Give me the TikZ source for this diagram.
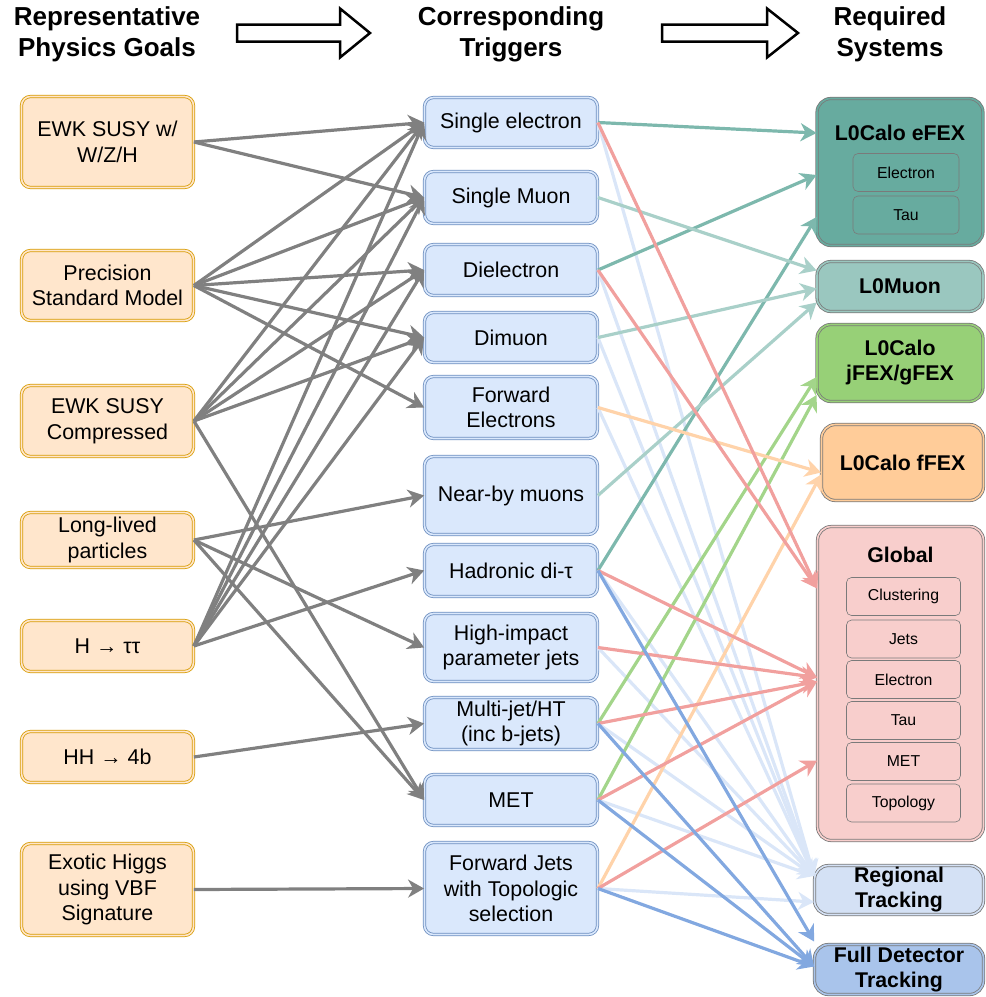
\documentclass[tikz,border=0pt]{standalone}
\usepackage{fontspec}
\setmainfont{Liberation Sans}
\usetikzlibrary{arrows.meta}

\definecolor{goalfill}{HTML}{FFE6CC}
\definecolor{goalline}{HTML}{D79B00}
\definecolor{trigfill}{HTML}{DAE8FC}
\definecolor{trigline}{HTML}{6C8EBF}
\definecolor{sysline}{HTML}{7A7A7A}
\definecolor{efexfill}{HTML}{67AB9F}
\definecolor{muonfill}{HTML}{9AC7BF}
\definecolor{jfexfill}{HTML}{97D077}
\definecolor{ffexfill}{HTML}{FFCC99}
\definecolor{globfill}{HTML}{F8CECC}
\definecolor{regfill}{HTML}{D4E1F5}
\definecolor{fullfill}{HTML}{A9C4EB}
%connector colours
\definecolor{goalarrow}{HTML}{808080}
\definecolor{efexarrow}{HTML}{7DB8AD}
\definecolor{muonarrow}{HTML}{A9D0C9}
\definecolor{jfexarrow}{HTML}{A3D58A}
\definecolor{ffexarrow}{HTML}{FFD3AA}
\definecolor{globarrow}{HTML}{F1A09E}
\definecolor{regarrow}{HTML}{DAE6F8}
\definecolor{fullarrow}{HTML}{82A8E0}

\tikzset{
	headtext/.style={font=\fontsize{26}{31}\selectfont\bfseries, align=center},
	bigarrow/.style={draw=black, fill=white, line width=2.5pt, miter limit=10},
	boxtext/.style={font=\fontsize{21.4}{25.5}\selectfont, align=center, inner sep=2pt},
	goal/.style={boxtext, draw=goalline, fill=goalfill, double=goalfill, double distance=1.6pt, line width=0.8pt, rounded corners=9pt, minimum width=172pt},
	trigger/.style={boxtext, draw=trigline, fill=trigfill, double=trigfill, double distance=1.6pt, line width=0.8pt, rounded corners=9pt, minimum width=173pt},
	systitle/.style={font=\fontsize{21.3}{25}\selectfont\bfseries, align=center, inner sep=2pt},
	system/.style={systitle, draw=sysline, fill=#1, double=#1, double distance=1.6pt, line width=0.8pt, rounded corners=14pt, minimum width=166pt},
	subbox/.style={draw=sysline, fill=#1, line width=0.6pt, rounded corners=5pt, font=\fontsize{15.8}{18}\selectfont, inner sep=0pt, minimum height=38pt},
	link/.style={draw=#1, line width=3.2pt, -{Stealth[length=16pt,width=18pt,inset=5pt]}}
}

\begin{document}
\begin{tikzpicture}[x=1pt,y=-1pt]
	\useasboundingbox (0,0) rectangle (986,997);

	%column headings
	\node[headtext] (goalhead) at (107,34) {Representative\\Physics Goals};
	\node[headtext] (trighead) at (511,34) {Corresponding\\Triggers};
	\node[headtext] (syshead)  at (890,34) {Required\\Systems};
	\draw[bigarrow] (237,24.5)--(340,24.5)--(340,8.5)--(370,33)--(340,57.5)--(340,41.5)--(237,41.5)--cycle;	%first block arrow
	\draw[bigarrow] (662,24.5)--(767,24.5)--(767,8.5)--(798,33)--(767,57.5)--(767,41.5)--(662,41.5)--cycle;	%second block arrow

	%physics goals
	\node[goal, minimum height=91pt] (ewkw) at (107.5,142)   {EWK SUSY w/\\W/Z/H};
	\node[goal, minimum height=70pt] (psm)  at (107.5,285.5) {Precision\\Standard Model};
	\node[goal, minimum height=71pt] (ewkc) at (107.5,421)   {EWK SUSY\\Compressed};
	\node[goal, minimum height=55pt] (llp)  at (107.5,540)   {Long-lived\\particles};
	\node[goal, minimum height=51pt] (htt)  at (107.5,646)   {H → ττ};
	\node[goal, minimum height=51pt] (hhb)  at (107.5,757)   {HH → 4b};
	\node[goal, minimum height=92pt] (exh)  at (107.5,889.5) {Exotic Higgs\\using VBF\\Signature};

	%triggers
	\node[trigger, minimum height=50pt] (sgle)  at (511,122.5) {Single electron};
	\node[trigger, minimum height=52pt] (smu)   at (511,197.5) {Single Muon};
	\node[trigger, minimum height=51pt] (diel)  at (511,270)   {Dielectron};
	\node[trigger, minimum height=50pt] (dimu)  at (511,337.5) {Dimuon};
	\node[trigger, minimum height=62pt] (fwde)  at (511,407.5) {Forward\\Electrons};
	\node[trigger, minimum height=78pt] (nbmu)  at (511,495.5) {Near-by muons};
	\node[trigger, minimum height=52pt] (ditau) at (511,570.5) {Hadronic di-τ};
	\node[trigger, minimum height=68pt] (hip)   at (511,647.5) {High-impact\\parameter jets};
	\node[trigger, minimum height=52pt] (mjet)  at (511,723.5) {Multi-jet/HT\\(inc b-jets)};
	\node[trigger, minimum height=51pt] (met)   at (511,800)   {MET};
	\node[trigger, minimum height=92pt] (fwdj)  at (511,888.5) {Forward Jets\\with Topologic\\selection};

	%systems
	\node[system=efexfill, minimum height=147pt] (efex) at (900,172) {};
		\node[systitle] (efextitle) at (900,133) {L0Calo eFEX};
		\node[subbox=efexfill, minimum width=106pt] (efexel)  at (906,172.5) {Electron};
		\node[subbox=efexfill, minimum width=106pt] (efextau) at (906,215)   {Tau};
	\node[system=muonfill, minimum height=50pt] (lmuon) at (900,286.5) {L0Muon};
	\node[system=jfexfill, minimum height=77pt] (jfex)  at (900,363)   {L0Calo\\jFEX/gFEX};
	\node[system=ffexfill, minimum height=76pt, minimum width=162pt] (ffex) at (902.5,462.5) {L0Calo fFEX};
	\node[system=globfill, minimum height=314pt] (glob) at (900.5,683.5) {};
		\node[systitle] (globtitle) at (900.5,555) {Global};
		\node[subbox=globfill, minimum width=114pt] (globclus) at (903.5,596.5) {Clustering};
		\node[subbox=globfill, minimum width=114pt] (globjets) at (903.5,639)   {Jets};
		\node[subbox=globfill, minimum width=114pt] (globel)   at (903.5,679.5) {Electron};
		\node[subbox=globfill, minimum width=114pt] (globtau)  at (903.5,720.5) {Tau};
		\node[subbox=globfill, minimum width=114pt] (globmet)  at (903.5,761.5) {MET};
		\node[subbox=globfill, minimum width=114pt] (globtopo) at (903.5,803)   {Topology};
	\node[system=regfill,  minimum height=49pt, minimum width=169pt] (regtrk)  at (899,890)   {Regional\\Tracking};
	\node[system=fullfill, minimum height=50pt, minimum width=169pt] (fulltrk) at (899,969.5) {Full Detector\\Tracking};

	%goals to triggers
	\foreach \t in {sgle,smu}                 \draw[link=goalarrow] (ewkw.east)--(\t.west);
	\foreach \t in {sgle,smu,diel,dimu,fwde}  \draw[link=goalarrow] (psm.east)--(\t.west);
	\foreach \t in {sgle,smu,diel,dimu,met}   \draw[link=goalarrow] (ewkc.east)--(\t.west);
	\foreach \t in {nbmu,hip,met}             \draw[link=goalarrow] (llp.east)--(\t.west);
	\foreach \t in {sgle,smu,diel,dimu,ditau} \draw[link=goalarrow] (htt.east)--(\t.west);
	\draw[link=goalarrow] (hhb.east)--(mjet.west);
	\draw[link=goalarrow] (exh.east)--(fwdj.west);

	%triggers to systems
	\foreach \t in {sgle,diel,dimu,fwde,ditau,hip,mjet,met} \draw[link=regarrow] (\t.east)--([yshift=14pt]regtrk.west);
	\draw[link=regarrow] (fwdj.east)--([yshift=-12pt]regtrk.west);
	%
	\draw[link=efexarrow] (sgle.east)--([yshift=39pt]efex.west);
	\draw[link=efexarrow] (diel.east)--([yshift=-3pt]efex.west);
	\draw[link=efexarrow] (ditau.east)--([yshift=-45pt]efex.west);
	%
	\draw[link=muonarrow] (smu.east)--([yshift=16pt]lmuon.west);
	\draw[link=muonarrow] (dimu.east)--([yshift=-2pt]lmuon.west);
	\draw[link=muonarrow] (nbmu.east)--([yshift=-16pt]lmuon.west);
	%
	\draw[link=jfexarrow] (mjet.east)--([yshift=-14pt]jfex.west);
	\draw[link=jfexarrow] (met.east)--([yshift=-32pt]jfex.west);
	%
	\draw[link=ffexarrow] (fwde.east)--([yshift=-10pt]ffex.west);
	\draw[link=ffexarrow] (fwdj.east)--([yshift=-12pt]ffex.west);
	%
	\foreach \t in {sgle,diel}  \draw[link=globarrow] (\t.east)--([yshift=95pt]glob.west);
	\foreach \t in {ditau,hip}  \draw[link=globarrow] (\t.east)--([yshift=6pt]glob.west);
	\foreach \t in {mjet,met}   \draw[link=globarrow] (\t.east)--([yshift=2pt]glob.west);
	\draw[link=globarrow] (fwdj.east)--([yshift=-77pt]glob.west);
	%
	\draw[link=fullarrow] (ditau.east)--([yshift=28pt]fulltrk.west);
	\foreach \t in {mjet,met,fwdj} \draw[link=fullarrow] (\t.east)--([yshift=3pt]fulltrk.west);
\end{tikzpicture}
\end{document}
